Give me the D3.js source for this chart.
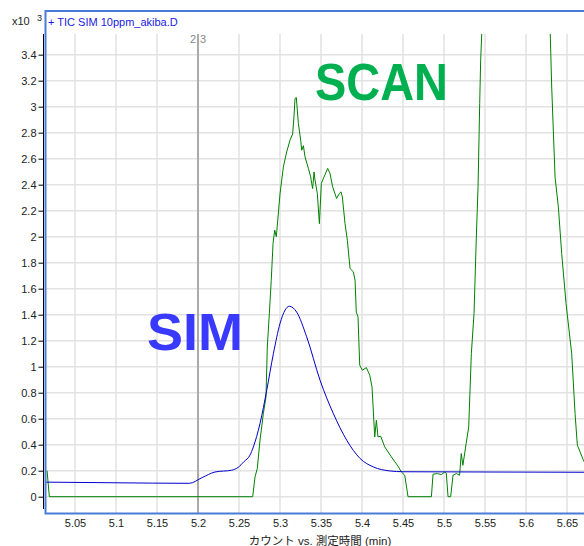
<!DOCTYPE html>
<html>
<head>
<meta charset="utf-8">
<script src="https://cdn.jsdelivr.net/npm/d3@7"></script>
<style>
  body { margin: 0; background: #fff; }
  text { font-family: "Liberation Sans", Arial, "Noto Sans CJK JP", sans-serif; }
</style>
</head>
<body>
<script>
// counts are in x10^3
var simTime   = [5.0134, 5.10, 5.1894, 5.205, 5.2207, 5.2411, 5.2488, 5.2561, 5.2634, 5.2675, 5.2756, 5.2838, 5.2919, 5.30, 5.3061, 5.3113, 5.3203, 5.3325, 5.3488, 5.365, 5.3813, 5.3976, 5.4138, 5.4341, 5.45, 5.55, 5.6707];
var simCounts = [0.112, 0.107, 0.103, 0.147, 0.19, 0.204, 0.225, 0.27, 0.32, 0.383, 0.563, 0.819, 1.10, 1.332, 1.435, 1.465, 1.42, 1.23, 0.896, 0.64, 0.435, 0.294, 0.229, 0.198, 0.192, 0.19, 0.188];

var scanTime = [5.0159, 5.0187, 5.2667, 5.2695, 5.2723, 5.2756, 5.2797, 5.2829, 5.2845, 5.287, 5.2893, 5.2915, 5.2935, 5.2955, 5.30, 5.3041, 5.3081, 5.3122, 5.3154, 5.317, 5.3183, 5.3199, 5.3224, 5.3252, 5.3265, 5.3285, 5.3305, 5.3346, 5.3374, 5.3386, 5.3398, 5.3415, 5.3427, 5.3455, 5.348, 5.3504, 5.3537, 5.3581, 5.361, 5.3642, 5.369, 5.3723, 5.3744, 5.376, 5.3793, 5.3821, 5.3854, 5.3894, 5.3915, 5.393, 5.3951, 5.3972, 5.4004, 5.4053, 5.4094, 5.4122, 5.4155, 5.4175, 5.4195, 5.4228, 5.4277, 5.4358, 5.4439, 5.448, 5.4521, 5.4561, 5.4846, 5.4866, 5.4919, 5.4968, 5.5008, 5.5028, 5.5049, 5.5081, 5.511, 5.515, 5.519, 5.521, 5.523, 5.527, 5.5301, 5.5333, 5.5366, 5.5394, 5.5415, 5.5435, 5.5447, 5.552, 5.59, 5.6255, 5.6313, 5.6354, 5.6394, 5.6435, 5.6488, 5.6557, 5.6598, 5.6626, 5.6659, 5.67, 5.675];
var scanCounts = [0.2, 0, 0, 0.152, 0.217, 0.435, 0.64, 0.768, 1.152, 1.41, 1.665, 1.948, 2.05, 2.0, 2.33, 2.537, 2.652, 2.742, 2.79, 2.92, 3.063, 3.07, 2.87, 2.742, 2.665, 2.70, 2.614, 2.525, 2.46, 2.41, 2.37, 2.498, 2.435, 2.332, 2.1, 2.41, 2.46, 2.525, 2.486, 2.383, 2.294, 2.332, 2.345, 2.306, 2.1, 1.973, 1.755, 1.73, 1.665, 1.42, 1.383, 1.012, 0.973, 0.993, 0.935, 0.845, 0.46, 0.588, 0.46, 0.465, 0.383, 0.306, 0.235, 0.19, 0.165, 0, 0, 0.173, 0.178, 0.17, 0.19, 0.18, 0, 0, 0.165, 0.178, 0.165, 0.332, 0.242, 0.409, 0.537, 1.10, 1.41, 1.998, 2.383, 3.025, 3.358, 4.5, 9, 4.5, 3.152, 2.46, 2.23, 1.87, 1.486, 1.10, 0.64, 0.396, 0.345, 0.28, 0.22];

var xTicks = [5.05, 5.1, 5.15, 5.2, 5.25, 5.3, 5.35, 5.4, 5.45, 5.5, 5.55, 5.6, 5.65];
var yTicks = [0, 0.2, 0.4, 0.6, 0.8, 1, 1.2, 1.4, 1.6, 1.8, 2, 2.2, 2.4, 2.6, 2.8, 3, 3.2, 3.4];
var xDomain = [5.0134, 5.6707];
var yDomain = [-0.1254, 3.559];
var markerTime = 5.2;

var W = 584, H = 546;
var pL = 45, pR = 584, pT = 34, pB = 513;

var x = d3.scaleLinear().domain(xDomain).range([pL, pR]);
var y = d3.scaleLinear().domain(yDomain).range([pB, pT]);

var svg = d3.select("body").append("svg")
    .attr("width", W)
    .attr("height", H);

svg.append("clipPath").attr("id", "plot")
  .append("rect").attr("x", pL).attr("y", pT).attr("width", pR - pL).attr("height", pB - pT);

// grid
var grid = svg.append("g");
grid.selectAll("line.v").data(xTicks).enter().append("line")
    .attr("x1", d => x(d)).attr("x2", d => x(d))
    .attr("y1", pT).attr("y2", pB)
    .attr("stroke", "#e2e2e2").attr("stroke-width", 1.5);
grid.selectAll("line.h").data(yTicks).enter().append("line")
    .attr("x1", pL).attr("x2", pR)
    .attr("y1", d => y(d)).attr("y2", d => y(d))
    .attr("stroke", "#e2e2e2").attr("stroke-width", 1.5);

// big labels
svg.append("text").text("SCAN")
    .attr("x", 315).attr("y", 99.5)
    .attr("font-size", 51).attr("font-weight", "bold")
    .attr("textLength", 133).attr("lengthAdjust", "spacingAndGlyphs")
    .attr("fill", "#00b050");
svg.append("text").text("SIM")
    .attr("x", 147).attr("y", 350)
    .attr("font-size", 51).attr("font-weight", "bold")
    .attr("textLength", 96).attr("lengthAdjust", "spacingAndGlyphs")
    .attr("fill", "#3a3aff");

// 2|3 marker
svg.append("line")
    .attr("x1", x(markerTime)).attr("x2", x(markerTime))
    .attr("y1", pT).attr("y2", pB)
    .attr("stroke", "#aaaaaa").attr("stroke-width", 2);
svg.append("text").text("2").attr("x", x(markerTime) - 2).attr("y", 43)
    .attr("text-anchor", "end").attr("font-size", 11).attr("fill", "#888");
svg.append("text").text("3").attr("x", x(markerTime) + 2).attr("y", 43)
    .attr("font-size", 11).attr("fill", "#888");

// traces
var line = d3.line().x(d => x(d[0])).y(d => y(d[1]));
var traces = svg.append("g").attr("clip-path", "url(#plot)");
traces.append("path")
    .datum(scanTime.map((t, i) => [t, scanCounts[i]]))
    .attr("d", line)
    .attr("fill", "none").attr("stroke", "#008000").attr("stroke-width", 1);
traces.append("path")
    .datum(simTime.map((t, i) => [t, simCounts[i]]))
    .attr("d", line.curve(d3.curveMonotoneX))
    .attr("fill", "none").attr("stroke", "#0000cc").attr("stroke-width", 1);

// frame
svg.append("rect")
    .attr("x", pL + 0.5).attr("y", 11)
    .attr("width", W + 10).attr("height", pB + 0.5 - 11)
    .attr("fill", "none").attr("stroke", "#4a7bd6").attr("stroke-width", 2);

svg.append("text").text("+ TIC SIM 10ppm_akiba.D")
    .attr("x", 48).attr("y", 26).attr("font-size", 11).attr("fill", "#1a1ae6");

// y axis
var yAxis = d3.axisLeft(y).tickValues(yTicks).tickSize(5).tickPadding(2)
    .tickFormat(d3.format("~g"));
var ya = svg.append("g").attr("transform", "translate(43.5,0)").call(yAxis);
ya.select(".domain").attr("d", "M0," + pT + "V509").attr("stroke", "#000");
ya.selectAll("text").attr("font-size", 11).attr("fill", "#222")
    .attr("font-family", "Liberation Sans, Arial, sans-serif");

svg.append("text").attr("x", 12).attr("y", 25).attr("font-size", 11).attr("fill", "#222").text("x10");
svg.append("text").attr("x", 37).attr("y", 21).attr("font-size", 9).attr("fill", "#222").text("3");

// x axis labels
var xAxis = d3.axisBottom(x).tickValues(xTicks).tickSize(0).tickPadding(0)
    .tickFormat(d3.format("~g"));
var xa = svg.append("g").attr("transform", "translate(0,519)").call(xAxis);
xa.select(".domain").remove();
xa.selectAll("text").attr("font-size", 11).attr("fill", "#222")
    .attr("font-family", "Liberation Sans, Arial, sans-serif");

svg.append("text").text("カウント vs. 測定時間 (min)")
    .attr("x", 320).attr("y", 545).attr("text-anchor", "middle")
    .attr("font-size", 11.5).attr("fill", "#222");
</script>
</body>
</html>
